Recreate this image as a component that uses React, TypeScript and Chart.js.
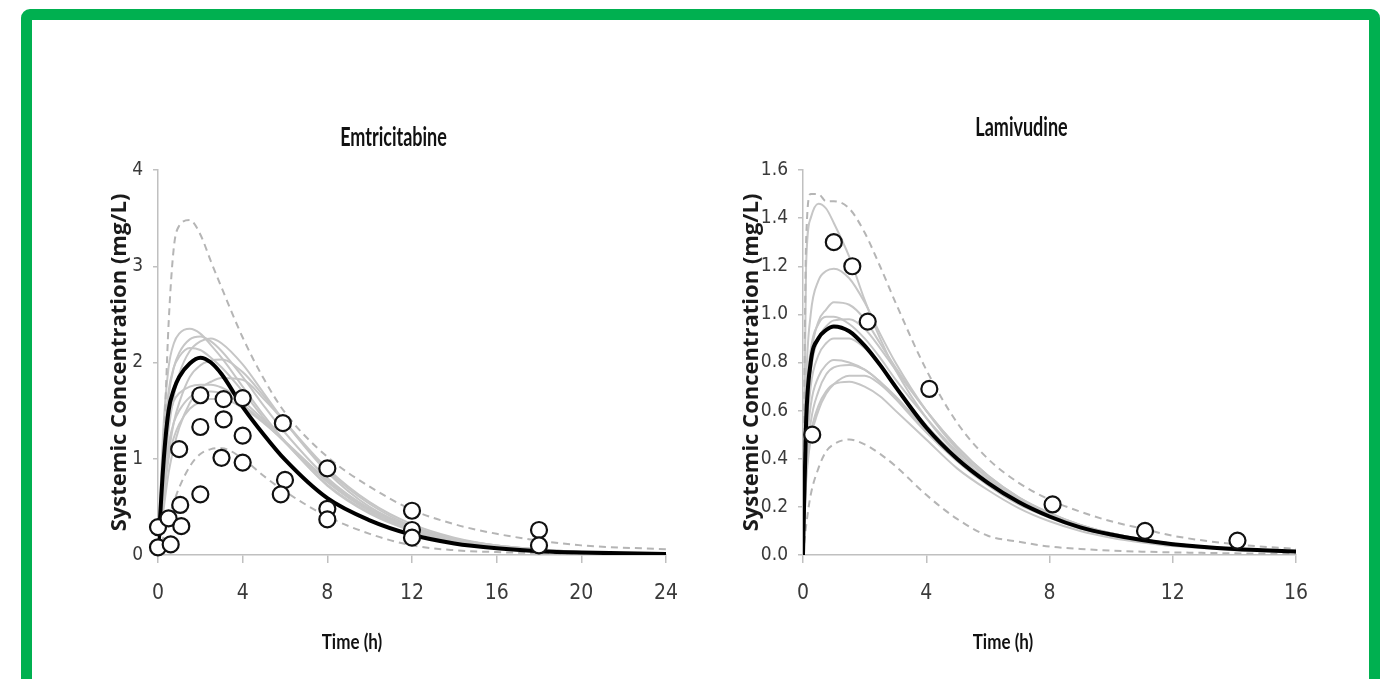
import React, { useEffect, useRef } from 'react';
import { Chart, registerables } from 'chart.js';

Chart.register(...registerables);

// ---------------- Emtricitabine ----------------
const emtTimes = [0, 0.25, 0.5, 0.75, 1, 1.5, 2, 2.5, 3, 4, 5, 6, 8, 10, 12, 14, 16, 18, 20, 24];
const emtMean = [0, 0.93, 1.5, 1.72, 1.85, 1.99, 2.05, 2.0, 1.88, 1.54, 1.25, 0.99, 0.59, 0.36, 0.21, 0.12, 0.07, 0.04, 0.025, 0.01];
const emtUpper = [0, 1.0, 2.4, 3.2, 3.42, 3.48, 3.33, 3.05, 2.78, 2.26, 1.83, 1.48, 1.02, 0.71, 0.47, 0.32, 0.22, 0.15, 0.1, 0.06];
const emtLower = [0, 0.18, 0.38, 0.55, 0.7, 0.92, 1.05, 1.1, 1.11, 1.0, 0.82, 0.66, 0.4, 0.22, 0.1, 0.05, 0.03, 0.02, 0.01, 0.005];
const emtInd1 = [0, 1.3, 1.95, 2.2, 2.3, 2.35, 2.3, 2.18, 2.05, 1.75, 1.45, 1.18, 0.72, 0.43, 0.25, 0.14, 0.08, 0.05, 0.03, 0.01];
const emtInd2 = [0, 1.0, 1.65, 1.95, 2.1, 2.24, 2.27, 2.22, 2.12, 1.85, 1.55, 1.27, 0.8, 0.48, 0.28, 0.16, 0.09, 0.05, 0.03, 0.01];
const emtInd3 = [0, 0.75, 1.3, 1.65, 1.88, 2.12, 2.22, 2.25, 2.2, 1.98, 1.68, 1.38, 0.86, 0.5, 0.29, 0.17, 0.1, 0.06, 0.03, 0.01];
const emtInd4 = [0, 1.1, 1.7, 1.95, 2.06, 2.15, 2.13, 2.05, 1.95, 1.7, 1.42, 1.17, 0.73, 0.44, 0.26, 0.15, 0.08, 0.05, 0.03, 0.01];
const emtInd5 = [0, 0.6, 1.05, 1.38, 1.58, 1.85, 1.97, 2.02, 2.03, 1.9, 1.65, 1.38, 0.88, 0.53, 0.3, 0.17, 0.1, 0.06, 0.03, 0.01];
const emtInd6 = [0, 0.45, 0.85, 1.12, 1.32, 1.58, 1.73, 1.8, 1.84, 1.82, 1.62, 1.38, 0.9, 0.55, 0.32, 0.18, 0.1, 0.06, 0.03, 0.01];
const emtInd7 = [0, 0.9, 1.4, 1.6, 1.68, 1.75, 1.77, 1.77, 1.74, 1.6, 1.4, 1.18, 0.76, 0.46, 0.27, 0.15, 0.09, 0.05, 0.03, 0.01];
const emtInd8 = [0, 0.7, 1.15, 1.38, 1.5, 1.64, 1.69, 1.7, 1.68, 1.56, 1.38, 1.17, 0.76, 0.46, 0.27, 0.15, 0.09, 0.05, 0.03, 0.01];
const emtInd9 = [0, 0.55, 1.0, 1.22, 1.36, 1.52, 1.59, 1.62, 1.62, 1.53, 1.37, 1.18, 0.78, 0.48, 0.28, 0.16, 0.09, 0.05, 0.03, 0.01];
const emtObsTime = [0, 0, 0.5, 0.6, 1, 1.05, 1.1, 2, 2, 2, 3.1, 3.1, 3.0, 4, 4, 4, 5.9, 6, 5.8, 8, 8, 8, 12, 12, 12, 18, 18];
const emtObsConc = [0.29, 0.08, 0.38, 0.11, 1.1, 0.52, 0.3, 1.66, 1.33, 0.63, 1.62, 1.41, 1.01, 1.63, 1.24, 0.96, 1.37, 0.78, 0.63, 0.9, 0.48, 0.37, 0.46, 0.26, 0.18, 0.26, 0.1];
const emtXTicks = [0, 4, 8, 12, 16, 20, 24];
const emtYTicks = [0, 1, 2, 3, 4];
const emtYTickLabels = ['0', '1', '2', '3', '4'];

// ---------------- Lamivudine ----------------
const lamTimes = [0, 0.1, 0.25, 0.5, 0.75, 1, 1.5, 2, 2.5, 3, 4, 5, 6, 7, 8, 9, 10, 11, 12, 14, 16];
const lamMean = [0, 0.55, 0.8, 0.9, 0.935, 0.95, 0.93, 0.87, 0.79, 0.7, 0.53, 0.4, 0.3, 0.22, 0.16, 0.115, 0.085, 0.062, 0.045, 0.025, 0.015];
const lamUpper = [0, 1.3, 1.5, 1.5, 1.47, 1.47, 1.44, 1.34, 1.2, 1.05, 0.77, 0.55, 0.4, 0.3, 0.23, 0.18, 0.14, 0.11, 0.08, 0.045, 0.025];
const lamLower = [0, 0.12, 0.25, 0.36, 0.43, 0.46, 0.48, 0.46, 0.42, 0.37, 0.25, 0.15, 0.08, 0.055, 0.035, 0.025, 0.018, 0.014, 0.011, 0.007, 0.004];
const lamInd1 = [0, 1.2, 1.4, 1.46, 1.44, 1.38, 1.24, 1.06, 0.9, 0.77, 0.57, 0.42, 0.31, 0.23, 0.17, 0.12, 0.09, 0.065, 0.047, 0.026, 0.015];
const lamInd2 = [0, 0.7, 1.0, 1.14, 1.18, 1.19, 1.15, 1.05, 0.92, 0.8, 0.6, 0.44, 0.32, 0.23, 0.17, 0.12, 0.085, 0.06, 0.044, 0.024, 0.013];
const lamInd3 = [0, 0.55, 0.82, 0.97, 1.02, 1.05, 1.04, 0.98, 0.88, 0.78, 0.6, 0.45, 0.33, 0.24, 0.175, 0.125, 0.09, 0.065, 0.047, 0.026, 0.015];
const lamInd4 = [0, 0.6, 0.85, 0.96, 0.99, 0.99, 0.96, 0.9, 0.82, 0.73, 0.57, 0.43, 0.32, 0.235, 0.17, 0.125, 0.09, 0.065, 0.047, 0.026, 0.015];
const lamInd5 = [0, 0.5, 0.76, 0.9, 0.95, 0.975, 0.98, 0.94, 0.86, 0.77, 0.6, 0.45, 0.33, 0.24, 0.175, 0.125, 0.09, 0.065, 0.047, 0.026, 0.015];
const lamInd6 = [0, 0.45, 0.7, 0.83, 0.88, 0.9, 0.9, 0.86, 0.79, 0.7, 0.54, 0.41, 0.3, 0.22, 0.16, 0.115, 0.082, 0.06, 0.043, 0.024, 0.014];
const lamInd7 = [0, 0.4, 0.62, 0.74, 0.79, 0.81, 0.8, 0.77, 0.72, 0.65, 0.51, 0.39, 0.29, 0.21, 0.155, 0.11, 0.08, 0.058, 0.042, 0.023, 0.013];
const lamInd8 = [0, 0.35, 0.55, 0.68, 0.75, 0.78, 0.79, 0.77, 0.72, 0.66, 0.52, 0.4, 0.3, 0.22, 0.16, 0.115, 0.082, 0.06, 0.043, 0.024, 0.014];
const lamInd9 = [0, 0.3, 0.48, 0.6, 0.67, 0.71, 0.745, 0.745, 0.71, 0.65, 0.52, 0.4, 0.3, 0.22, 0.16, 0.115, 0.082, 0.06, 0.043, 0.024, 0.014];
const lamInd10 = [0, 0.32, 0.5, 0.62, 0.68, 0.71, 0.72, 0.7, 0.66, 0.6, 0.48, 0.36, 0.27, 0.195, 0.14, 0.1, 0.072, 0.052, 0.037, 0.02, 0.011];
const lamObsTime = [0.3, 1.0, 1.6, 2.1, 4.1, 8.1, 11.1, 14.1];
const lamObsConc = [0.5, 1.3, 1.2, 0.97, 0.69, 0.21, 0.1, 0.06];
const lamXTicks = [0, 4, 8, 12, 16];
const lamYTicks = [0, 0.2, 0.4, 0.6, 0.8, 1.0, 1.2, 1.4, 1.6];
const lamYTickLabels = ['0.0', '0.2', '0.4', '0.6', '0.8', '1.0', '1.2', '1.4', '1.6'];

const TICK_FAMILY = "'Liberation Sans Narrow', 'DejaVu Sans Condensed', 'Roboto Condensed', Roboto, sans-serif";
const TITLE_FAMILY = "Lato, 'Open Sans', sans-serif";

function pts(times: number[], vals: number[]) {
  return times.map((t, i) => ({ x: t, y: vals[i] }));
}

const panelText = {
  id: 'panelText',
  afterDraw(chart: any, _args: any, opts: any) {
    const ctx = chart.ctx as CanvasRenderingContext2D;
    for (const it of opts.items || []) {
      ctx.save();
      ctx.font = it.font;
      ctx.fillStyle = it.color;
      ctx.textAlign = 'center';
      ctx.textBaseline = 'alphabetic';
      ctx.translate(it.x, it.y);
      ctx.scale(1, it.stretch);
      ctx.fillText(it.text, 0, 0);
      ctx.restore();
    }
  },
};

interface Panel {
  title: string;
  times: number[];
  mean: number[];
  upper: number[];
  lower: number[];
  inds: number[][];
  obsT: number[];
  obsC: number[];
  xMax: number;
  yMax: number;
  xTicks: number[];
  yTicks: number[];
  yLabels: string[];
  yAxisWidth: number;
  padRight: number;
  yTitlePad: number;
  titleX: number;
  titleY: number;
  xTitleX: number;
}

function buildConfig(p: Panel): any {
  const datasets: any[] = [];
  datasets.push({
    label: 'Observed',
    data: pts(p.obsT, p.obsC),
    showLine: false,
    pointRadius: 8,
    pointBorderWidth: 2.2,
    pointBorderColor: '#111111',
    pointBackgroundColor: '#ffffff',
    clip: false,
  });
  datasets.push({
    label: 'Mean',
    data: pts(p.times, p.mean),
    borderColor: '#000000',
    borderWidth: 4,
    pointRadius: 0,
    cubicInterpolationMode: 'monotone',
    fill: false,
  });
  [p.upper, p.lower].forEach((arr, i) => {
    datasets.push({
      label: i === 0 ? '95th percentile' : '5th percentile',
      data: pts(p.times, arr),
      borderColor: '#b5b5b5',
      borderWidth: 2,
      borderDash: [7, 5],
      pointRadius: 0,
      cubicInterpolationMode: 'monotone',
      fill: false,
    });
  });
  p.inds.forEach((arr, i) => {
    datasets.push({
      label: 'Trial ' + (i + 1),
      data: pts(p.times, arr),
      borderColor: '#c6c6c6',
      borderWidth: 2,
      pointRadius: 0,
      cubicInterpolationMode: 'monotone',
      fill: false,
    });
  });

  const axisColor = '#c0c0c0';
  return {
    type: 'line',
    data: { datasets },
    plugins: [panelText],
    options: {
      responsive: false,
      animation: false,
      events: [],
      layout: { padding: { top: 70, left: 0, right: p.padRight, bottom: 0 } },
      plugins: {
        legend: { display: false },
        tooltip: { enabled: false },
        title: { display: false },
        panelText: {
          items: [
            { text: p.title, x: p.titleX, y: p.titleY, font: `bold 18px ${TITLE_FAMILY}`, color: '#111111', stretch: 1.5 },
            { text: 'Time (h)', x: p.xTitleX, y: 549, font: `bold 17px ${TITLE_FAMILY}`, color: '#111111', stretch: 1.25 },
          ],
        },
      },
      scales: {
        x: {
          type: 'linear',
          min: 0,
          max: p.xMax,
          afterBuildTicks: (s: any) => {
            s.ticks = p.xTicks.map((v) => ({ value: v }));
          },
          afterFit: (s: any) => {
            s.height = 124;
          },
          ticks: {
            autoSkip: false,
            maxRotation: 0,
            padding: 18,
            color: '#3a3a3a',
            font: { family: TICK_FAMILY, size: 21 },
            callback: (v: any) => String(v),
          },
          grid: { drawOnChartArea: false, drawTicks: true, tickLength: 8, color: axisColor, lineWidth: 1.5 },
          border: { display: true, color: axisColor, width: 1.5 },
        },
        y: {
          type: 'linear',
          min: 0,
          max: p.yMax,
          afterBuildTicks: (s: any) => {
            s.ticks = p.yTicks.map((v) => ({ value: v }));
          },
          afterFit: (s: any) => {
            s.width = p.yAxisWidth;
          },
          ticks: {
            autoSkip: false,
            padding: 10,
            color: '#3a3a3a',
            font: { family: TICK_FAMILY, size: 19 },
            callback: (_v: any, i: number) => p.yLabels[i],
          },
          grid: { drawOnChartArea: false, drawTicks: true, tickLength: 5, color: axisColor, lineWidth: 1.5 },
          border: { display: true, color: axisColor, width: 1.5 },
          title: {
            display: true,
            text: 'Systemic Concentration (mg/L)',
            color: '#1a1a1a',
            font: { family: "'Open Sans', Lato, sans-serif", size: 22, weight: 'bold' },
            padding: { top: p.yTitlePad, bottom: 0 },
          },
        },
      },
    },
  };
}

const emtPanel: Panel = {
  title: 'Emtricitabine',
  times: emtTimes,
  mean: emtMean,
  upper: emtUpper,
  lower: emtLower,
  inds: [emtInd1, emtInd2, emtInd3, emtInd4, emtInd5, emtInd6, emtInd7, emtInd8, emtInd9],
  obsT: emtObsTime,
  obsC: emtObsConc,
  xMax: 24,
  yMax: 4,
  xTicks: emtXTicks,
  yTicks: emtYTicks,
  yLabels: emtYTickLabels,
  yAxisWidth: 118,
  padRight: 34,
  yTitlePad: 67,
  titleX: 353.5,
  titleY: 46,
  xTitleX: 312,
};

const lamPanel: Panel = {
  title: 'Lamivudine',
  times: lamTimes,
  mean: lamMean,
  upper: lamUpper,
  lower: lamLower,
  inds: [lamInd1, lamInd2, lamInd3, lamInd4, lamInd5, lamInd6, lamInd7, lamInd8, lamInd9, lamInd10],
  obsT: lamObsTime,
  obsC: lamObsConc,
  xMax: 16,
  yMax: 1.6,
  xTicks: lamXTicks,
  yTicks: lamYTicks,
  yLabels: lamYTickLabels,
  yAxisWidth: 113,
  padRight: 54,
  yTitlePad: 49,
  titleX: 331.5,
  titleY: 36,
  xTitleX: 313,
};

function PanelChart({ panel, left }: { panel: Panel; left: number }) {
  const ref = useRef<HTMLCanvasElement>(null);
  useEffect(() => {
    const chart = new Chart(ref.current as HTMLCanvasElement, buildConfig(panel));
    return () => chart.destroy();
  }, [panel]);
  return (
    <canvas
      ref={ref}
      width={660}
      height={579}
      style={{ position: 'absolute', left, top: 100, width: 660, height: 579 }}
    />
  );
}

export default function App() {
  return (
    <div
      style={{
        position: 'absolute',
        left: 0,
        top: 0,
        width: 1390,
        height: 679,
        overflow: 'hidden',
        background: '#ffffff',
      }}
    >
      <div
        style={{
          position: 'absolute',
          left: 21,
          top: 9,
          width: 1359,
          height: 720,
          border: '11px solid #00b050',
          borderRadius: 9,
          boxSizing: 'border-box',
        }}
      />
      <PanelChart panel={emtPanel} left={40} />
      <PanelChart panel={lamPanel} left={690} />
    </div>
  );
}
